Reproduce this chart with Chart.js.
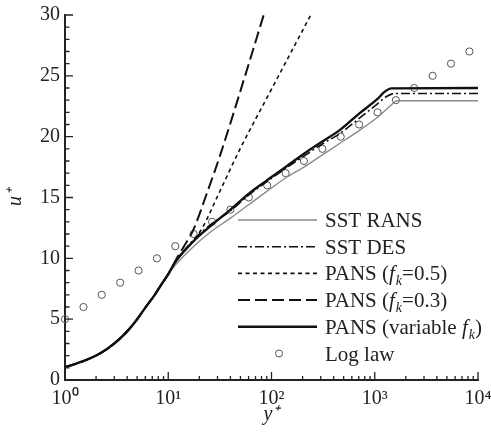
<!DOCTYPE html>
<html>
<head>
<meta charset="utf-8">
<script src="https://cdn.jsdelivr.net/npm/chart.js@4.4.1/dist/chart.umd.min.js"></script>
<style>
  html, body { margin: 0; padding: 0; background: #fff; }
</style>
</head>
<body>
<canvas id="velocityProfile" width="491" height="434"></canvas>
<script>
// near-wall part, all models collapse onto this
const wallYPlus = [1, 1.5, 2.2, 3, 4, 5, 6, 7.4, 8.5, 10];
const wallU = [1.05, 1.55, 2.2, 3.0, 4.0, 5.0, 5.95, 7.0, 7.8, 8.7];

const ransYPlus = [11.6, 17.5, 26, 40, 60, 90, 137, 206, 311, 468, 706, 1063, 1400, 1650, 10000];
const ransU = [9.4, 10.95, 12.2, 13.3, 14.4, 15.5, 16.6, 17.5, 18.5, 19.5, 20.5, 21.6, 22.5, 22.95, 22.95];

const desYPlus = [11.6, 17.5, 26, 40, 60, 90, 137, 206, 311, 468, 706, 1063, 1300, 1550, 10000];
const desU = [9.65, 11.5, 12.8, 13.9, 15.2, 16.3, 17.4, 18.4, 19.4, 20.3, 21.5, 22.7, 23.3, 23.55, 23.55];

const pans05YPlus = [12, 14, 17, 21.7, 30, 49, 100, 240];
const pans05U = [9.85, 10.5, 11.3, 12.6, 15.1, 18.9, 23.9, 30];

const pans03YPlus = [12, 14, 17.4, 24, 31.6, 55, 84];
const pans03U = [9.95, 10.9, 12.3, 15.5, 18.4, 24.9, 30];

const pansVarYPlus = [11.6, 17.5, 26, 40, 60, 90, 137, 206, 311, 468, 706, 1063, 1250, 1450, 10000];
const pansVarU = [9.65, 11.4, 12.7, 14.0, 15.3, 16.4, 17.5, 18.6, 19.6, 20.6, 21.9, 23.1, 23.7, 23.97, 24.0];

const logLawYPlus = [1, 1.51, 2.27, 3.42, 5.16, 7.77, 11.7, 17.6, 26.6, 40.0, 60.3, 90.9, 137, 206, 311, 468, 706, 1063, 1602, 2414, 3637, 5480, 8257];
const logLawU = [5, 6, 7, 8, 9, 10, 11, 12, 13, 14, 15, 16, 17, 18, 19, 20, 21, 22, 23, 24, 25, 26, 27];

const xTicks = [1, 10, 100, 1000, 10000];
const yTicks = [0, 5, 10, 15, 20, 25, 30];

const FONT = "'Liberation Serif', 'Times New Roman', serif";
const sup = ['\u2070', '\u00b9', '\u00b2', '\u00b3', '\u2074'];

function pts(xs, ys) {
  return xs.map((x, i) => ({ x: x, y: ys[i] }));
}
function withWall(xs, ys) {
  return pts(wallYPlus.concat(xs), wallU.concat(ys));
}

// ticks pointing into the plot, like the original
const inwardTicks = {
  id: 'inwardTicks',
  afterDraw(chart) {
    const ctx = chart.ctx;
    const xs = chart.scales.x, ys = chart.scales.y;
    const bottom = ys.getPixelForValue(0);
    const left = xs.getPixelForValue(1);
    ctx.save();
    ctx.strokeStyle = '#222';
    ctx.lineWidth = 1.3;
    ctx.beginPath();
    for (let d = 0; d <= 4; d++) {
      const base = Math.pow(10, d);
      const px = xs.getPixelForValue(base);
      ctx.moveTo(px, bottom);
      ctx.lineTo(px, bottom - 8);
      if (d < 4) {
        for (let m = 2; m <= 9; m++) {
          const mx = xs.getPixelForValue(m * base);
          ctx.moveTo(mx, bottom);
          ctx.lineTo(mx, bottom - 4);
        }
      }
    }
    for (let v = 0; v <= 30; v++) {
      const py = ys.getPixelForValue(v);
      ctx.moveTo(left, py);
      ctx.lineTo(left + (v % 5 === 0 ? 8 : 4.5), py);
    }
    ctx.stroke();
    ctx.restore();
  }
};

function drawRich(ctx, parts, x, y) {
  parts.forEach(p => {
    ctx.font = (p.it ? 'italic ' : '') + (p.sub ? '14px ' : '21px ') + FONT;
    ctx.fillText(p.t, x, p.sub ? y + 5 : y);
    x += ctx.measureText(p.t).width + (p.it && !p.sub ? 1 : 0);
  });
}

const legendBox = {
  id: 'legendBox',
  afterDraw(chart) {
    const ctx = chart.ctx;
    const x0 = 238, x1 = 317, tx = 325;
    const rows = [
      { dash: [], width: 1.4, color: '#8a8a8a', text: [{ t: 'SST RANS' }] },
      { dash: [9, 3, 2, 3], width: 1.6, color: '#111', text: [{ t: 'SST DES' }] },
      { dash: [4, 3.5], width: 1.6, color: '#111', text: [{ t: 'PANS (' }, { t: 'f', it: true }, { t: 'k', it: true, sub: true }, { t: '=0.5)' }] },
      { dash: [12, 5], width: 2, color: '#111', text: [{ t: 'PANS (' }, { t: 'f', it: true }, { t: 'k', it: true, sub: true }, { t: '=0.3)' }] },
      { dash: [], width: 2.4, color: '#111', text: [{ t: 'PANS (variable ' }, { t: 'f', it: true }, { t: 'k', it: true, sub: true }, { t: ')' }] },
      { circle: true, text: [{ t: 'Log law' }] }
    ];
    ctx.save();
    rows.forEach((r, i) => {
      const y = 220 + i * 26.7;
      if (r.circle) {
        ctx.setLineDash([]);
        ctx.strokeStyle = '#555';
        ctx.lineWidth = 1;
        ctx.beginPath();
        ctx.arc(279, y, 3.5, 0, Math.PI * 2);
        ctx.stroke();
      } else {
        ctx.setLineDash(r.dash);
        ctx.strokeStyle = r.color;
        ctx.lineWidth = r.width;
        ctx.beginPath();
        ctx.moveTo(x0, y);
        ctx.lineTo(x1, y);
        ctx.stroke();
      }
      ctx.fillStyle = '#222';
      ctx.textBaseline = 'alphabetic';
      ctx.textAlign = 'left';
      drawRich(ctx, r.text, tx, y + 7);
    });
    ctx.restore();
  }
};

const lineBase = { showLine: true, pointRadius: 0, fill: false, cubicInterpolationMode: 'monotone' };

const data = {
  datasets: [
    Object.assign({ label: 'PANS (variable fk)', data: withWall(pansVarYPlus, pansVarU), borderColor: '#111', borderWidth: 2.4 }, lineBase),
    Object.assign({ label: 'SST DES', data: withWall(desYPlus, desU), borderColor: '#111', borderWidth: 1.6, borderDash: [9, 3, 2, 3] }, lineBase),
    Object.assign({ label: 'PANS (fk=0.5)', data: withWall(pans05YPlus, pans05U), borderColor: '#111', borderWidth: 1.6, borderDash: [4, 3.5] }, lineBase),
    Object.assign({ label: 'PANS (fk=0.3)', data: withWall(pans03YPlus, pans03U), borderColor: '#111', borderWidth: 2, borderDash: [12, 5] }, lineBase),
    Object.assign({ label: 'SST RANS', data: withWall(ransYPlus, ransU), borderColor: '#8a8a8a', borderWidth: 1.4 }, lineBase),
    {
      label: 'Log law',
      data: pts(logLawYPlus, logLawU),
      showLine: false,
      pointStyle: 'circle',
      pointRadius: 3.6,
      pointBorderWidth: 1,
      pointBorderColor: '#555',
      pointBackgroundColor: 'rgba(255,255,255,0)',
      clip: false
    }
  ]
};

const config = {
  type: 'scatter',
  data,
  options: {
    responsive: false,
    animation: false,
    layout: { padding: { top: 15, right: 13, left: 0, bottom: 0 } },
    plugins: { legend: { display: false }, tooltip: { enabled: false } },
    scales: {
      x: {
        type: 'logarithmic',
        min: 1,
        max: 10000,
        grid: { display: false, drawTicks: false, tickLength: 0 },
        border: { display: true, color: '#222', width: 2 },
        afterBuildTicks: s => { s.ticks = xTicks.map(v => ({ value: v })); },
        afterFit: s => { s.height = 54; s.paddingLeft = 0; s.paddingRight = 0; },
        ticks: {
          color: '#222',
          padding: 7,
          maxRotation: 0,
          autoSkip: false,
          font: { family: FONT, size: 20 },
          callback: v => '10' + sup[Math.round(Math.log10(v))]
        },
        title: {
          display: true,
          text: 'y\u207a',
          color: '#222',
          padding: { top: 0, bottom: 7 },
          font: { family: FONT, size: 20, style: 'italic' }
        }
      },
      y: {
        min: 0,
        max: 30,
        grid: { display: false, drawTicks: false, tickLength: 0 },
        border: { display: true, color: '#222', width: 2 },
        afterBuildTicks: s => { s.ticks = yTicks.map(v => ({ value: v })); },
        afterFit: s => { s.width = 65; s.paddingTop = 0; s.paddingBottom = 0; },
        ticks: {
          color: '#222',
          padding: 5,
          font: { family: FONT, size: 20 }
        },
        title: {
          display: true,
          text: 'u\u207a',
          color: '#222',
          padding: { top: 4, bottom: 0 },
          font: { family: FONT, size: 20, style: 'italic' }
        }
      }
    }
  },
  plugins: [inwardTicks, legendBox]
};

const velocityChart = new Chart(document.getElementById('velocityProfile'), config);
</script>
</body>
</html>
